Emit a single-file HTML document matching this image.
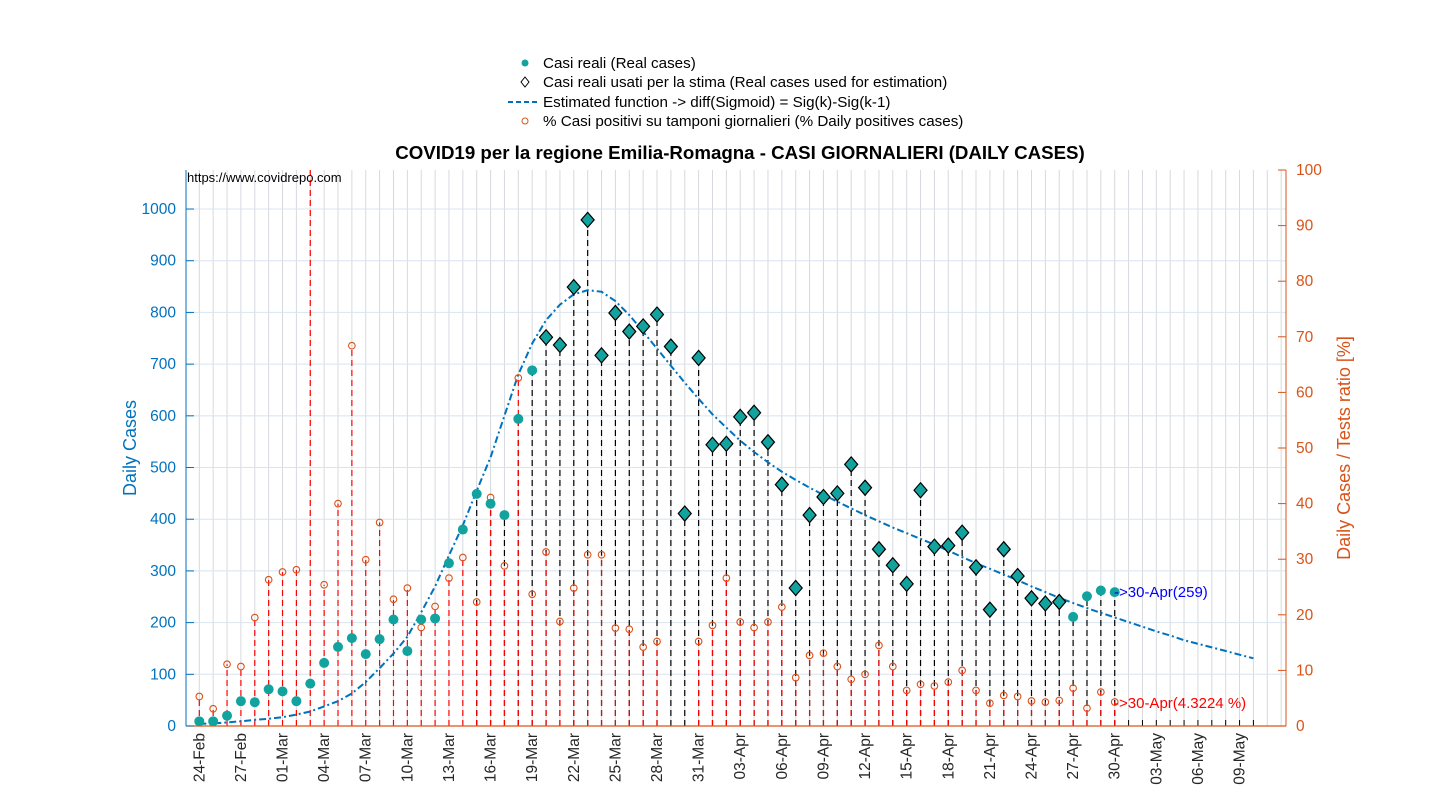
<!DOCTYPE html>
<html><head><meta charset="utf-8"><style>
body{margin:0;background:#fff;font-family:"Liberation Sans",Arial,sans-serif}
svg{display:block}
</style></head><body>
<svg id="c" width="1430" height="800" xmlns="http://www.w3.org/2000/svg" font-family="Liberation Sans, Arial, sans-serif"></svg>
<script>
const dates=["24-Feb","27-Feb","01-Mar","04-Mar","07-Mar","10-Mar","13-Mar","16-Mar","19-Mar","22-Mar","25-Mar","28-Mar","31-Mar","03-Apr","06-Apr","09-Apr","12-Apr","15-Apr","18-Apr","21-Apr","24-Apr","27-Apr","30-Apr","03-May","06-May","09-May"];
const cases=[9,9,20,48,46,71,67,48,82,122,153,170,139,168,206,145,206,208,315,380,449,430,408,594,688,752,737,849,979,717,799,763,773,796,734,411,712,544,546,598,606,549,467,267,408,443,450,506,461,342,311,275,456,347,349,374,307,225,342,290,247,237,240,211,251,262,259];
const ratio=[5.3,3.1,11.1,10.7,19.5,26.3,27.7,28.1,150,25.4,40,68.4,29.9,36.6,22.8,24.8,17.7,21.5,26.6,30.3,22.3,41.1,28.8,62.6,23.7,31.3,18.8,24.8,30.8,30.8,17.6,17.4,14.2,15.2,null,null,15.2,18.1,26.6,18.7,17.7,18.7,21.4,8.7,12.7,13.1,10.7,8.4,9.3,14.5,10.7,6.4,7.5,7.2,7.9,10.0,6.4,4.1,5.5,5.3,4.5,4.3,4.6,6.8,3.2,6.1,4.32];
const fit=[4,5,7,9,12,14,17,22,28,38,48,63,85,112,140,173,220,270,330,388,455,520,600,680,740,785,815,835,843,840,822,795,763,730,697,664,633,603,577,552,530,510,492,476,461,447,434,421,408,396,384,373,362,351,339,327,315,304,293,282,270,259,248,238,228,219,210,201,192,183,175,166,159,152,145,138,131];
const estStart=25, estEnd=62, blackStart=20;
const leftTicks=[0,100,200,300,400,500,600,700,800,900,1000];
const rightTicks=[0,10,20,30,40,50,60,70,80,90,100];

const L=186,R=1286,T=170,B=726;
const X=i=>199.3+i*13.87;
const Y=v=>B-v*(B-T)/1075.5;
const Y2=p=>B-p*(B-T)/100;
const svg=document.getElementById('c');
const NS='http://www.w3.org/2000/svg';
function mk(tag,a,parent){const e=document.createElementNS(NS,tag);for(const k in a)e.setAttribute(k,a[k]);(parent||svg).appendChild(e);return e;}
const TEAL='#12a39f',BLUE='#0072BD',ORANGE='#D95319';

const grid=mk('g',{});


for(let i=0;i<=78;i++){const x=X(i);if(x>R)break;mk('line',{x1:x,x2:x,y1:T,y2:B,stroke:'#d6d9de','stroke-width':1},grid);}
leftTicks.forEach(v=>{if(v>0)mk('line',{x1:L,x2:R,y1:Y(v),y2:Y(v),stroke:'#d8e4ef','stroke-width':1},grid);});

const stems=mk('g',{});


cases.forEach((v,i)=>{if(i>=blackStart){mk('line',{x1:X(i),x2:X(i),y1:B,y2:Y(v),stroke:'#000','stroke-width':1.2,'stroke-dasharray':'6,4'},stems);}});
ratio.forEach((p,i)=>{if(p==null)return;const yy=Math.max(T,Y2(p));mk('line',{x1:X(i),x2:X(i),y1:B,y2:yy,stroke:'#ff0000','stroke-width':1.2,'stroke-dasharray':'6,4'},stems);});
for(let i=67;i<=76;i++)mk('line',{x1:X(i),x2:X(i),y1:B,y2:B-6,stroke:'#000'},stems);

let d='';fit.forEach((v,i)=>{d+=(i?'L':'M')+X(i).toFixed(1)+','+Y(v).toFixed(1);});
const fp=mk('path',{d:d,fill:'none',stroke:BLUE,'stroke-width':2,'stroke-dasharray':'7,3,2,3','stroke-linejoin':'round'});



ratio.forEach((p,i)=>{if(p==null||p>100)return;const c=mk('circle',{cx:X(i),cy:Y2(p),r:3.3,fill:'none',stroke:ORANGE,'stroke-width':1.1});

});

cases.forEach((v,i)=>{const x=X(i),y=Y(v);let e;
if(i>=estStart&&i<=estEnd){e=mk('polygon',{points:`${x},${y-7.5} ${x+6.5},${y} ${x},${y+7.5} ${x-6.5},${y}`,fill:TEAL,stroke:'#000','stroke-width':1.2});
}
else{e=mk('circle',{cx:x,cy:y,r:5,fill:TEAL});
}
});

mk('line',{x1:L,x2:L,y1:T,y2:B,stroke:BLUE,'stroke-width':1});
mk('line',{x1:R,x2:R,y1:T,y2:B,stroke:ORANGE,'stroke-width':1});
mk('line',{x1:L,x2:R,y1:B,y2:B,stroke:ORANGE,'stroke-width':1.2});
leftTicks.forEach(v=>{const y=Y(v);mk('line',{x1:L,x2:L+8,y1:y,y2:y,stroke:BLUE});
const t=mk('text',{x:L-10,y:y+5,'text-anchor':'end','font-size':15.5,fill:BLUE});t.textContent=v;

});
rightTicks.forEach(p=>{const y=Y2(p);mk('line',{x1:R-8,x2:R,y1:y,y2:y,stroke:ORANGE});
const t=mk('text',{x:R+10,y:y+5,'font-size':15.5,fill:ORANGE});t.textContent=p;

});
dates.forEach((s,k)=>{const x=X(k*3);const t=mk('text',{transform:`translate(${x+5},${B+7}) rotate(-90)`,'text-anchor':'end','font-size':15.5,fill:'#262626'});t.textContent=s;

});

function txt(s,a,name){const t=mk('text',a);t.textContent=s;

return t;}
txt('Daily Cases',{transform:'translate(136,448) rotate(-90)','text-anchor':'middle','font-size':18,fill:BLUE},'y-axis-title-left');
txt('Daily Cases / Tests ratio [%]',{transform:'translate(1350,448) rotate(-90)','text-anchor':'middle','font-size':18,fill:ORANGE},'y-axis-title-right');
txt('COVID19 per la regione Emilia-Romagna - CASI GIORNALIERI (DAILY CASES)',{x:740,y:159,'text-anchor':'middle','font-size':18.7,'font-weight':'bold',fill:'#000'},'chart-title');
txt('https://www.covidrepo.com',{x:187,y:182,'font-size':13,fill:'#000'},'source-url');
txt('->30-Apr(259)',{x:1114,y:597,'font-size':15,fill:'#0000ff'},'last-case-annotation');
txt('->30-Apr(4.3224 %)',{x:1114,y:708,'font-size':15,fill:'#ff0000'},'last-ratio-annotation');

const lg=mk('g',{});


mk('circle',{cx:525,cy:63,r:3.5,fill:TEAL},lg);
mk('polygon',{points:'525,77 529,82 525,87 521,82',fill:'#fff',stroke:'#000','stroke-width':1},lg);
mk('line',{x1:508,x2:540,y1:102,y2:102,stroke:BLUE,'stroke-width':2,'stroke-dasharray':'5,3'},lg);
mk('circle',{cx:525,cy:121,r:3,fill:'none',stroke:ORANGE},lg);
[['Casi reali (Real cases)',68],['Casi reali usati per la stima (Real cases used for estimation)',87],['Estimated function -> diff(Sigmoid) = Sig(k)-Sig(k-1)',107],['% Casi positivi su tamponi giornalieri (% Daily positives cases)',126]].forEach(([s,y])=>{
const t=mk('text',{x:543,y:y,'font-size':15.2,fill:'#000'},lg);t.textContent=s;

});
</script>
</body></html>
